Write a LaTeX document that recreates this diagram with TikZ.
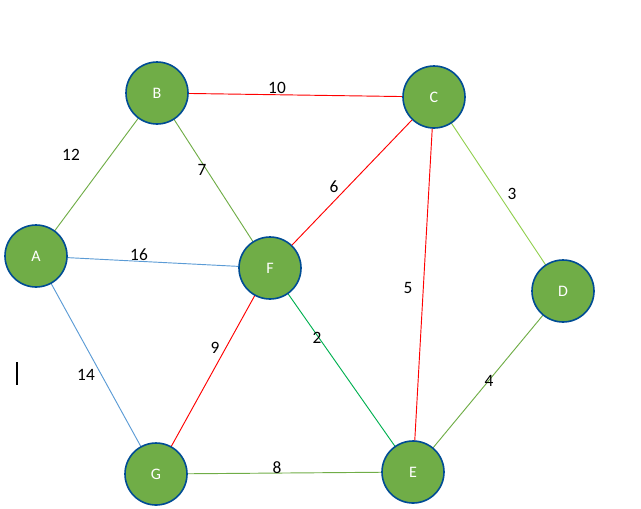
\documentclass[tikz,border=0pt]{standalone}
\usepackage{fontspec}
\setmainfont{Carlito}
\begin{document}
\begin{tikzpicture}[x=0.75pt,y=-0.75pt,
 v/.style={circle,draw=blue!40!black!70!cyan,fill=vg,line width=1.2pt,minimum size=46.5pt,inner sep=0pt,text=white,font=\fontsize{12}{14}\selectfont},
 lab/.style={font=\fontsize{13}{15}\selectfont,text=black},
 e/.style={line width=0.7pt}]
\definecolor{vg}{HTML}{70AD47}
\definecolor{eb}{HTML}{5B9BD5}
\definecolor{er}{HTML}{FF0000}
\definecolor{eg}{HTML}{00B050}
\definecolor{el}{HTML}{92D050}
\useasboundingbox (0,0) rectangle (641,508);
\draw[e,vg] (36,256)--(157,93);
\draw[e,vg] (157,93)--(270,268);
\draw[e,eb] (36,256)--(270,268);
\draw[e,eb] (36,256)--(156,474);
\draw[e,er] (157,93)--(434,97);
\draw[e,er] (434,97)--(270,268);
\draw[e,er] (434,97)--(413,472);
\draw[e,er] (270,268)--(156,474);
\draw[e,eg] (270,268)--(413,472);
\draw[e,el] (434,97)--(563,291);
\draw[e,vg] (563,291)--(413,472);
\draw[e,vg] (156,474)--(413,472);
\node[v] (B) at (157,93) {B};
\node[v] (C) at (434,97) {C};
\node[v] (A) at (36,256) {A};
\node[v] (F) at (270,268) {F};
\node[v] (D) at (563,291) {D};
\node[v] (G) at (156,474) {G};
\node[v] (E) at (413,472) {E};
\node[lab] at (277,88) {10};
\node[lab] at (71,155) {12};
\node[lab] at (202,170) {7};
\node[lab] at (334,187) {6};
\node[lab] at (512,194) {3};
\node[lab] at (139,255) {16};
\node[lab] at (408,288) {5};
\node[lab] at (215,348) {9};
\node[lab] at (317,338) {2};
\node[lab] at (86,375) {14};
\node[lab] at (489,381) {4};
\node[lab] at (277,468) {8};
\draw[line width=1pt] (17,362)--(17,385);
\end{tikzpicture}
\end{document}
